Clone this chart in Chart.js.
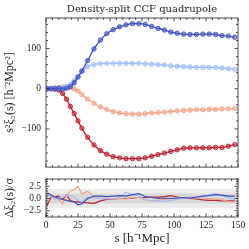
<!DOCTYPE html>
<html>
<head>
<meta charset="utf-8">
<script src="https://cdn.jsdelivr.net/npm/chart.js@4.4.1/dist/chart.umd.min.js"></script>
<style>
  html, body { margin: 0; padding: 0; background: #fff; }
  .box { position: absolute; left: 0; width: 249px; }
  #topBox { top: 0; height: 172px; }
  #botBox { top: 172px; height: 77px; }
</style>
</head>
<body>
<div class="box" id="topBox"><canvas id="topChart"></canvas></div>
<div class="box" id="botBox"><canvas id="botChart"></canvas></div>
<script>
// separations (h^-1 Mpc)
const sVals = [1, 4, 7, 10, 13, 16, 19, 22, 25, 28, 32.5, 37.5, 42.5, 47.5, 52.5, 57.5, 62.5, 67.5, 72.5, 77.5,
    82.5, 87.5, 92.5, 97.5, 102.5, 107.5, 112.5, 117.5, 122.5, 127.5, 132.5, 137.5, 142.5, 147.5];

// s^2 xi_2(s) per density quintile
const ds1 = [0, 0, 0, 1, -1, 1, 5, 15, 29, 44, 70, 99, 121, 137, 147, 154, 159, 162, 162, 160,
    155, 150, 146, 141, 138, 136, 135, 135, 136, 136, 135, 132, 131, 128];
const ds2 = [0, 1, 2, 2, 3, 5, 10, 20, 31, 43, 55, 60, 62, 63, 63, 63, 63, 63, 63, 62,
    61, 60, 59, 57, 56, 55, 54, 53, 53, 53, 53, 52, 50, 48];
const ds4 = [0, 1, 2, 3, 4, 5, 3, 0, -6, -14, -26, -36, -45, -52, -57, -60, -62, -63, -63, -62,
    -60, -59, -58, -57, -55, -54, -53, -52, -52, -51, -51, -50, -50, -49];
const ds5 = [0, 0, -1, -3, -12, -26, -44, -62, -80, -98, -121, -140, -154, -163, -169, -172, -174, -174, -174, -172,
    -168, -164, -160, -156, -152, -148, -147, -147, -147, -147, -146, -146, -143, -139];

// residuals (model - data) / sigma
const res1 = [1.2, 0.7, 0.3, 0.0, -0.2, -0.4, -0.6, -0.7, -1.3, -1.1, 0.0, 0.5, 0.5, 0.4, 0.5, 0.6, 0.5, 0.8, 1.0, 0.4,
    0.2, 0.0, 0.1, 0.0, 0.1, 0.2, 0.1, 0.3, 0.5, 0.6, 0.8, 0.7, 0.5, 0.5];
const res2 = [0.9, 0.4, -0.1, 0.1, 0.3, 0.5, 0.6, 0.3, -0.4, -0.7, 0.3, 0.1, 0.0, -0.1, 0.0, 0.2, 1.3, 0.8, 0.5, -0.2,
    -0.5, -0.6, -0.6, -0.4, -0.2, 0.0, 0.1, 0.2, 0.4, 0.8, 1.0, 0.6, 0.2, -0.2];
const res4 = [0.6, 0.5, 0.4, -0.3, -1.1, 0.6, 1.6, 1.8, 2.5, 0.9, 1.5, 0.3, 0.1, 0.0, -0.1, 0.0, -0.1, 0.2, 0.2, -0.3,
    -0.5, -0.4, -0.2, 0.0, 0.1, 0.2, 0.3, 0.3, 0.1, 0.0, -0.1, -0.3, -0.6, -0.8];
const res5 = [-1.4, 0.3, 0.4, 0.5, -0.2, 0.7, -0.4, -0.7, -0.7, -0.8, -0.9, -1.0, -0.5, -0.2, -0.1, 0.0, 0.0, 0.1, 0.2, 0.2,
    0.3, 0.3, 0.4, 0.6, 0.3, 0.1, 0.0, -0.1, -0.3, -0.4, -0.4, -0.5, -0.5, -0.5];

// ticks
const xTicks = [0, 25, 50, 75, 100, 125, 150];
const topYTicks = [-100, 0, 100];
const resYTicks = [-2.5, 0, 2.5];

const colors = ['#3d50c3', '#9dbdff', '#f5a385', '#bf1e2e'];
const serif = 'Liberation Serif';

function toXY(ys) {
    return sVals.map((s, i) => ({ x: s, y: ys[i] }));
}

function alpha(hex, a) {
    let r = parseInt(hex.slice(1, 3), 16), g = parseInt(hex.slice(3, 5), 16), b = parseInt(hex.slice(5, 7), 16);
    return `rgba(${r}, ${g}, ${b}, ${a})`;
}

// inward ticks on all four sides plus the frame, matplotlib style
function frameTicks(xMajor, xMinorStep, yMajor, yMinorStep) {
    return {
        id: 'frameTicks',
        afterDraw(chart) {
            const ctx = chart.ctx;
            const a = chart.chartArea;
            const xs = chart.scales.x, ys = chart.scales.y;
            ctx.save();
            ctx.strokeStyle = '#222';
            ctx.lineWidth = 0.8;
            ctx.strokeRect(a.left, a.top, a.right - a.left, a.bottom - a.top);
            ctx.beginPath();
            for (let v = xs.min; v <= xs.max + 1e-9; v += xMinorStep) {
                let px = xs.getPixelForValue(v);
                let len = xMajor.includes(Math.round(v * 100) / 100) ? 3.5 : 2;
                ctx.moveTo(px, a.bottom); ctx.lineTo(px, a.bottom - len);
                ctx.moveTo(px, a.top); ctx.lineTo(px, a.top + len);
            }
            let start = Math.ceil(ys.min / yMinorStep) * yMinorStep;
            for (let v = start; v <= ys.max + 1e-9; v += yMinorStep) {
                let py = ys.getPixelForValue(v);
                let len = yMajor.includes(Math.round(v * 100) / 100) ? 3.5 : 2;
                ctx.moveTo(a.left, py); ctx.lineTo(a.left + len, py);
                ctx.moveTo(a.right, py); ctx.lineTo(a.right - len, py);
            }
            ctx.stroke();
            ctx.restore();
        }
    };
}

// grey 1 and 2 sigma bands behind the residuals
const sigmaBands = {
    id: 'sigmaBands',
    beforeDatasetsDraw(chart) {
        const ctx = chart.ctx;
        const a = chart.chartArea;
        const ys = chart.scales.y;
        ctx.save();
        ctx.fillStyle = '#ebebeb';
        ctx.fillRect(a.left, ys.getPixelForValue(2), a.right - a.left, ys.getPixelForValue(-2) - ys.getPixelForValue(2));
        ctx.fillStyle = '#d9d9d9';
        ctx.fillRect(a.left, ys.getPixelForValue(1), a.right - a.left, ys.getPixelForValue(-1) - ys.getPixelForValue(1));
        ctx.restore();
    }
};

function fixedTicks(values) {
    return scale => { scale.ticks = values.map(v => ({ value: v })); };
}

// fixed axis box, and no extra room for half tick labels
function fixWidth(w) {
    return scale => {
        scale.width = w;
        scale.paddingTop = 0;
        scale.paddingBottom = 0;
    };
}

function fixHeight(h) {
    return scale => {
        scale.height = h;
        scale.paddingLeft = 0;
        scale.paddingRight = 0;
    };
}

const topData = [ds1, ds2, ds4, ds5];
const resData = [res1, res2, res4, res5];

new Chart(document.getElementById('topChart'), {
    type: 'line',
    data: {
        datasets: topData.map((d, i) => ({
            data: toXY(d),
            borderColor: colors[i],
            borderWidth: 1.3,
            tension: 0.4,
            cubicInterpolationMode: 'monotone',
            pointRadius: 2.2,
            pointBorderWidth: 0.9,
            pointBorderColor: colors[i],
            pointBackgroundColor: alpha(colors[i], 0.5)
        }))
    },
    options: {
        animation: false,
        responsive: true,
        maintainAspectRatio: false,
        devicePixelRatio: 1,
        layout: { padding: { left: 0, right: 11, top: 0, bottom: 2 } },
        plugins: {
            legend: { display: false },
            tooltip: { enabled: false },
            title: {
                display: true,
                fullSize: false,
                text: 'Density-split CCF quadrupole',
                color: '#222',
                font: { family: 'DejaVu Serif', size: 10, weight: 'normal', lineHeight: 1.2 },
                padding: { top: 3, bottom: 3 }
            }
        },
        scales: {
            x: {
                type: 'linear', min: 0, max: 150,
                display: false
            },
            y: {
                type: 'linear', min: -195, max: 176,
                afterBuildTicks: fixedTicks(topYTicks),
                afterFit: fixWidth(46),
                grid: { display: false, drawTicks: false },
                border: { display: false },
                ticks: {
                    padding: 5,
                    color: '#222',
                    font: { family: serif, size: 9.5 },
                    callback: v => (v < 0 ? '\u2212' + Math.abs(v) : String(v))
                },
                title: {
                    display: true,
                    text: 's\u00b2\u03be\u2082(s) [h\u207b\u00b2Mpc\u00b2]',
                    color: '#222',
                    font: { family: serif, size: 12 },
                    padding: { top: 3, bottom: 0 }
                }
            }
        }
    },
    plugins: [frameTicks(xTicks, 5, topYTicks, 20)]
});

new Chart(document.getElementById('botChart'), {
    type: 'line',
    data: {
        datasets: resData.map((d, i) => ({
            data: toXY(d),
            borderColor: colors[i],
            borderWidth: 1.2,
            tension: 0,
            pointRadius: 0
        }))
    },
    options: {
        animation: false,
        responsive: true,
        maintainAspectRatio: false,
        devicePixelRatio: 1,
        layout: { padding: { left: 0, right: 11, top: 7, bottom: 0 } },
        plugins: {
            legend: { display: false },
            tooltip: { enabled: false }
        },
        scales: {
            x: {
                type: 'linear', min: 0, max: 150,
                afterBuildTicks: fixedTicks(xTicks),
                afterFit: fixHeight(32),
                grid: { display: false, drawTicks: false },
                border: { display: false },
                ticks: {
                    padding: 3,
                    maxRotation: 0,
                    color: '#222',
                    font: { family: serif, size: 9.5 }
                },
                title: {
                    display: true,
                    text: 's [h\u207b\u00b9Mpc]',
                    color: '#222',
                    font: { family: serif, size: 13 },
                    padding: { top: 0, bottom: 3 }
                }
            },
            y: {
                type: 'linear', min: -3.8, max: 4,
                afterBuildTicks: fixedTicks(resYTicks),
                afterFit: fixWidth(46),
                grid: { display: false, drawTicks: false },
                border: { display: false },
                ticks: {
                    padding: 5,
                    color: '#222',
                    font: { family: serif, size: 9.5 },
                    callback: v => (v < 0 ? '\u2212' : '') + Math.abs(v).toFixed(1)
                },
                title: {
                    display: true,
                    text: '\u0394\u03be\u2082(s)/\u03c3',
                    color: '#222',
                    font: { family: serif, size: 12 },
                    padding: { top: 3, bottom: 0 }
                }
            }
        }
    },
    plugins: [sigmaBands, frameTicks(xTicks, 5, resYTicks, 0.5)]
});
</script>
</body>
</html>
